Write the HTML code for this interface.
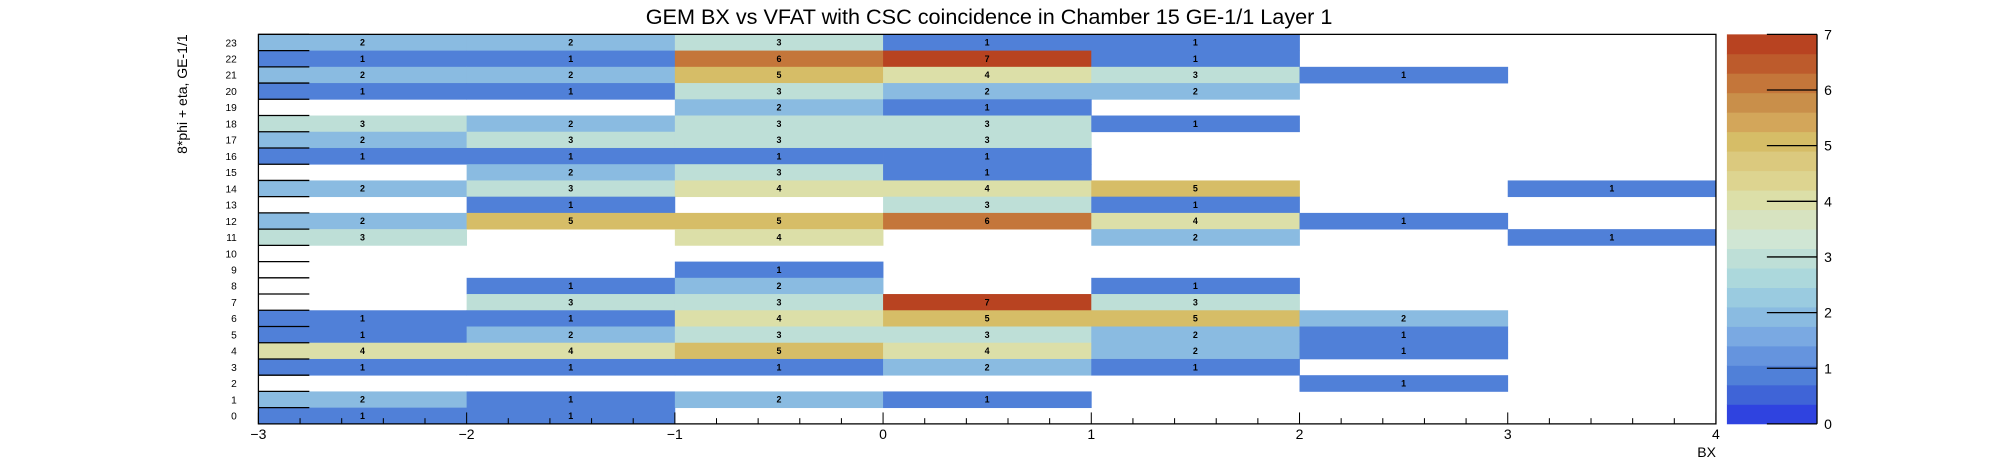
<!DOCTYPE html>
<html><head><meta charset="utf-8"><style>
html,body{margin:0;padding:0;background:#fff;}
svg{display:block;font-family:"Liberation Sans",sans-serif;}
</style></head><body>
<svg id="chart" width="1996" height="472" viewBox="0 0 1568 370.8" preserveAspectRatio="none" xmlns="http://www.w3.org/2000/svg">
<text x="777" y="19" font-size="17" text-anchor="middle">GEM BX vs VFAT with CSC coincidence in Chamber 15 GE-1/1 Layer 1</text>
<text transform="translate(147,27) rotate(-90)" font-size="11" text-anchor="end">8*phi + eta, GE-1/1</text>
<text x="1348" y="359" font-size="11" text-anchor="end">BX</text>
<g id="cells"></g><g id="axes"></g><g id="cbar"></g>
</svg>
<script>
const xBins = [-3,-2,-1,0,1,2,3];
const rowIds = [23,22,21,20,19,18,17,16,15,14,13,12,11,10,9,8,7,6,5,4,3,2,1,0];
// counts per row, one per x bin (0 = empty)
const row23=[2,2,3,1,1,0,0];
const row22=[1,1,6,7,1,0,0];
const row21=[2,2,5,4,3,1,0];
const row20=[1,1,3,2,2,0,0];
const row19=[0,0,2,1,0,0,0];
const row18=[3,2,3,3,1,0,0];
const row17=[2,3,3,3,0,0,0];
const row16=[1,1,1,1,0,0,0];
const row15=[0,2,3,1,0,0,0];
const row14=[2,3,4,4,5,0,1];
const row13=[0,1,0,3,1,0,0];
const row12=[2,5,5,6,4,1,0];
const row11=[3,0,4,0,2,0,1];
const row10=[0,0,0,0,0,0,0];
const row9=[0,0,1,0,0,0,0];
const row8=[0,1,2,0,1,0,0];
const row7=[0,3,3,7,3,0,0];
const row6=[1,1,4,5,5,2,0];
const row5=[1,2,3,3,2,1,0];
const row4=[4,4,5,4,2,1,0];
const row3=[1,1,1,2,1,0,0];
const row2=[0,0,0,0,0,1,0];
const row1=[2,1,2,1,0,0,0];
const row0=[1,1,0,0,0,0,0];
const rows=[row23,row22,row21,row20,row19,row18,row17,row16,row15,row14,row13,row12,row11,row10,row9,row8,row7,row6,row5,row4,row3,row2,row1,row0];
const xTicks=[-3,-2,-1,0,1,2,3,4];
const zTicks=[0,1,2,3,4,5,6,7];
const palette=["#2f43e0","#3f64d7","#5080d8","#6594de","#7aa9e2","#8abbe1","#9acbe0","#acd8dc","#bedfd7","#d0e6d4","#d7e3c0","#dcdfa8","#ddd490","#dbc97e","#d6bd67","#d3a65a","#c98f4a","#c4763a","#bd5b2c","#b84321"];
const zMax=7;

const L=203,R=1348,T=27,B=333;
const xs=v=>L+(v+3)/7*(R-L);
const ys=v=>B-v/24*(B-T);
const NS="http://www.w3.org/2000/svg";
function mk(tag,attrs,parent){const e=document.createElementNS(NS,tag);for(const k in attrs)e.setAttribute(k,attrs[k]);parent.appendChild(e);return e;}
const cells=document.getElementById('cells'),axes=document.getElementById('axes'),cbar=document.getElementById('cbar');
const col=v=>palette[Math.min(19,Math.floor(v/zMax*20))];

rows.forEach((r,ri)=>{const y=rowIds[ri];
 r.forEach((v,xi)=>{ if(!v) return; const x=xBins[xi];
  const rc=mk('rect',{x:xs(x),y:ys(y+1),width:xs(x+1)-xs(x)+0.3,height:ys(y)-ys(y+1)+0.3,fill:col(v)},cells);
  
  
  const t=mk('text',{x:xs(x+0.5),y:(ys(y)+ys(y+1))/2+2.5,'font-size':7,'font-weight':'bold','text-anchor':'middle'},cells);
  
  
  t.textContent=v;
 });
});
// frame
const fr=mk('rect',{x:L,y:T,width:R-L,height:B-T,fill:'none',stroke:'#000','stroke-width':1},axes);


// y ticks & labels
for(let i=0;i<24;i++){
 const ln=mk('line',{x1:L,x2:L+40,y1:ys(i+1),y2:ys(i+1),stroke:'#000','stroke-width':1},axes);
 
 
 const t=mk('text',{x:186,y:(ys(i)+ys(i+1))/2+3,'font-size':8,'text-anchor':'end'},axes);
 
 
 t.textContent=i;
}
// x ticks
for(let k=0;k<=35;k++){const v=-3+k*0.2;const major=k%5===0;
 const ln=mk('line',{x1:xs(v),x2:xs(v),y1:B,y2:B-(major?9:4.5),stroke:'#000','stroke-width':0.8},axes);
 
 
}
xTicks.forEach(v=>{const t=mk('text',{x:xs(v),y:345,'font-size':11,'text-anchor':'middle'},axes);
 
 
 t.textContent=(v<0?'\u2212'+(-v):v);
});
// colorbar
const cL=1356.6,cR=1427.4;
const cy=v=>B-v/zMax*(B-T);
palette.forEach((c,i)=>{const r=mk('rect',{x:cL,y:B-(i+1)/20*(B-T),width:cR-cL,height:(B-T)/20+0.3,fill:c},cbar);
 
 
});
const cl=mk('line',{x1:cR,x2:cR,y1:T,y2:B,stroke:'#000','stroke-width':1},cbar);


zTicks.forEach(v=>{
 const ln=mk('line',{x1:1388,x2:cR,y1:cy(v),y2:cy(v),stroke:'#000','stroke-width':1},cbar);
 
 
 const t=mk('text',{x:1433,y:cy(v)+4,'font-size':11},cbar);
 
 
 t.textContent=v;
});
</script>
</body></html>
